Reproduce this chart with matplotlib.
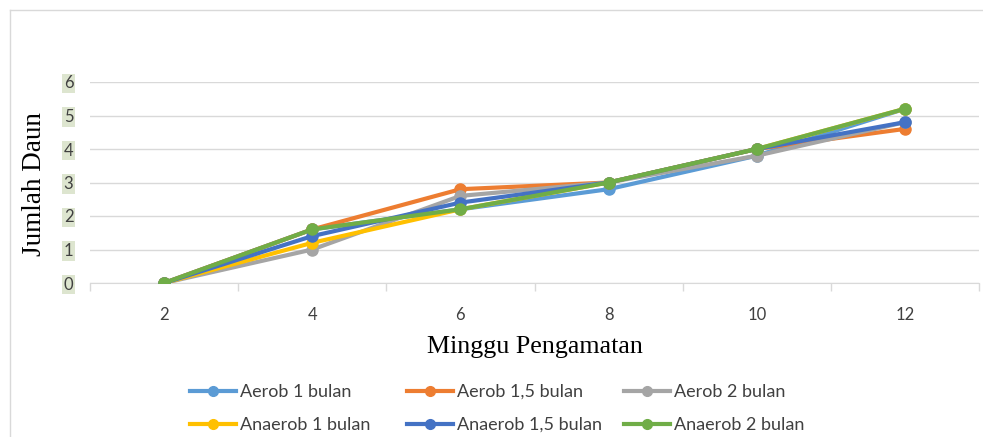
import matplotlib
matplotlib.use("Agg")
import matplotlib.pyplot as plt
from matplotlib.lines import Line2D

weeks = ["2", "4", "6", "8", "10", "12"]
aerob_1 = [0, 1.6, 2.2, 2.8, 3.8, 5.2]
aerob_15 = [0, 1.6, 2.8, 3.0, 4.0, 4.6]
aerob_2 = [0, 1.0, 2.6, 3.0, 3.8, 4.8]
anaerob_1 = [0, 1.2, 2.2, 3.0, 4.0, 5.2]
anaerob_15 = [0, 1.4, 2.4, 3.0, 4.0, 4.8]
anaerob_2 = [0, 1.6, 2.2, 3.0, 4.0, 5.2]

series = [
    ("Aerob 1 bulan", aerob_1, "#5B9BD5"),
    ("Aerob 1,5 bulan", aerob_15, "#ED7D31"),
    ("Aerob 2 bulan", aerob_2, "#A5A5A5"),
    ("Anaerob 1 bulan", anaerob_1, "#FFC000"),
    ("Anaerob 1,5 bulan", anaerob_15, "#4472C4"),
    ("Anaerob 2 bulan", anaerob_2, "#70AD47"),
]

W, H = 983, 437
fig = plt.figure(figsize=(W / 100, H / 100), dpi=100)
ax = fig.add_axes([90 / W, 1 - 283 / H, (979 - 90) / W, (283 - 82) / H])

x = list(range(len(weeks)))
for name, vals, col in series:
    ax.plot(x, vals, color=col, lw=3, marker="o", ms=8, label=name,
            solid_capstyle="round", zorder=3)

ax.set_xlim(-0.5, len(weeks) - 0.5)
ax.set_ylim(0, 6)
ax.set_yticks(range(0, 7))
ax.set_xticks(x)
ax.set_xticklabels(weeks)
ax.set_xticks([i - 0.5 for i in range(len(weeks) + 1)], minor=True)
ax.tick_params(axis="x", which="major", length=0, pad=17, labelsize=12, labelcolor="#404040")
ax.tick_params(axis="x", which="minor", length=6, color="#D9D9D9", width=1)
ax.tick_params(axis="y", length=0, pad=12, labelsize=12, labelcolor="#404040")
for lab in ax.get_xticklabels() + ax.get_yticklabels():
    lab.set_fontfamily("Lato")
for lab in ax.get_yticklabels():
    lab.set_bbox(dict(facecolor="#DDE5CF", edgecolor="none", pad=1.2))

ax.grid(axis="y", color="#D9D9D9", lw=1, zorder=0)
for s in ["top", "right", "left"]:
    ax.spines[s].set_visible(False)
ax.spines["bottom"].set_color("#D9D9D9")

ax.set_xlabel("Minggu Pengamatan", family="Liberation Serif", fontsize=18.7, labelpad=10)
ax.set_ylabel("Jumlah Daun", family="Liberation Serif", fontsize=19.5)
ax.yaxis.set_label_coords((47 - 90) / (979 - 90), 0.49)

handles = [Line2D([0], [0], color=c, lw=3, marker="o", ms=7) for _, _, c in series]
labels = [n for n, _, _ in series]
col_x = [190, 407, 624]
for ci in range(3):
    idx = [ci, ci + 3]
    leg = fig.legend([handles[i] for i in idx], [labels[i] for i in idx], ncol=1,
                     loc="center left", bbox_to_anchor=(col_x[ci] / W, 1 - 408.5 / H),
                     frameon=False, borderpad=0, borderaxespad=0,
                     prop={"family": "Lato", "size": 13}, handlelength=2.55,
                     handletextpad=0.2, labelspacing=0.95)
    for t in leg.get_texts():
        t.set_color("#404040")

# chart frame
fig.add_artist(Line2D([10 / W, 10 / W], [0, 1 - 10 / H], color="#D9D9D9", lw=1, transform=fig.transFigure))
fig.add_artist(Line2D([10 / W, 1], [1 - 10 / H, 1 - 10 / H], color="#D9D9D9", lw=1, transform=fig.transFigure))

fig.savefig("out.png", dpi=100)
